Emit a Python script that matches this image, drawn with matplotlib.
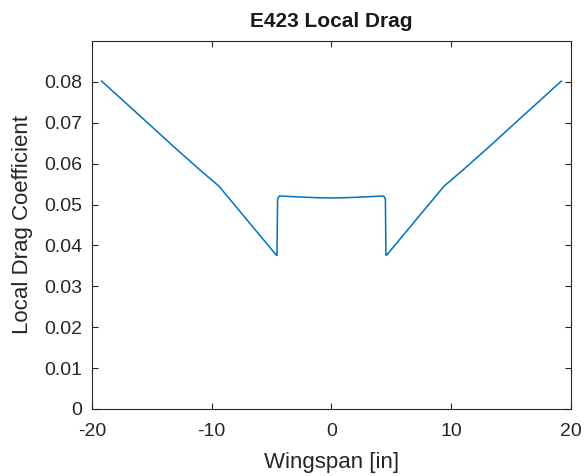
import matplotlib
matplotlib.use("Agg")
import matplotlib.pyplot as plt

plt.rcParams['font.family'] = ['Liberation Sans', 'DejaVu Sans']
plt.rcParams['axes.unicode_minus'] = False

# spanwise stations [in] and local drag coefficient
span = [-19.2, -16.0, -13.0, -11.0, -9.4, -4.6,
        -4.55, -4.5, -4.35, -3.0, -1.5, 0.0, 1.5, 3.0, 4.35, 4.5,
        4.55, 4.6, 9.4, 11.0, 13.0, 16.0, 19.2]
cd = [0.0802, 0.0717, 0.0637, 0.0585, 0.0545, 0.0376,
      0.0376, 0.0514, 0.0521, 0.0519, 0.0517, 0.0516, 0.0517, 0.0519, 0.0521, 0.0514,
      0.0376, 0.0376, 0.0545, 0.0585, 0.0637, 0.0717, 0.0802]

fig = plt.figure(figsize=(5.84, 4.76), dpi=100)
ax = fig.add_axes([0.1575, 0.1408, 0.8202, 0.7731])
ax.plot(span, cd, color='#0072BD', linewidth=1.1)

ax.set_xlim(-20, 20)
ax.set_ylim(0, 0.09)
ax.set_xticks([-20, -10, 0, 10, 20])
ax.set_yticks([0, 0.01, 0.02, 0.03, 0.04, 0.05, 0.06, 0.07, 0.08])
ax.set_yticklabels(['0', '0.01', '0.02', '0.03', '0.04', '0.05', '0.06', '0.07', '0.08'])
ax.tick_params(direction='in', top=True, right=True, labelsize=14,
               colors='#262626', length=4)
ax.tick_params(axis='x', pad=10)
ax.tick_params(axis='y', pad=7)
for s in ax.spines.values():
    s.set_color('#262626')
ax.set_title('E423 Local Drag', fontsize=15, fontweight='bold', color='#1a1a1a', pad=10)
ax.set_xlabel('Wingspan [in]', fontsize=16, color='#262626', labelpad=9)
ax.set_ylabel('Local Drag Coefficient', fontsize=16, color='#262626', labelpad=8)

fig.savefig('out.png', dpi=100)
